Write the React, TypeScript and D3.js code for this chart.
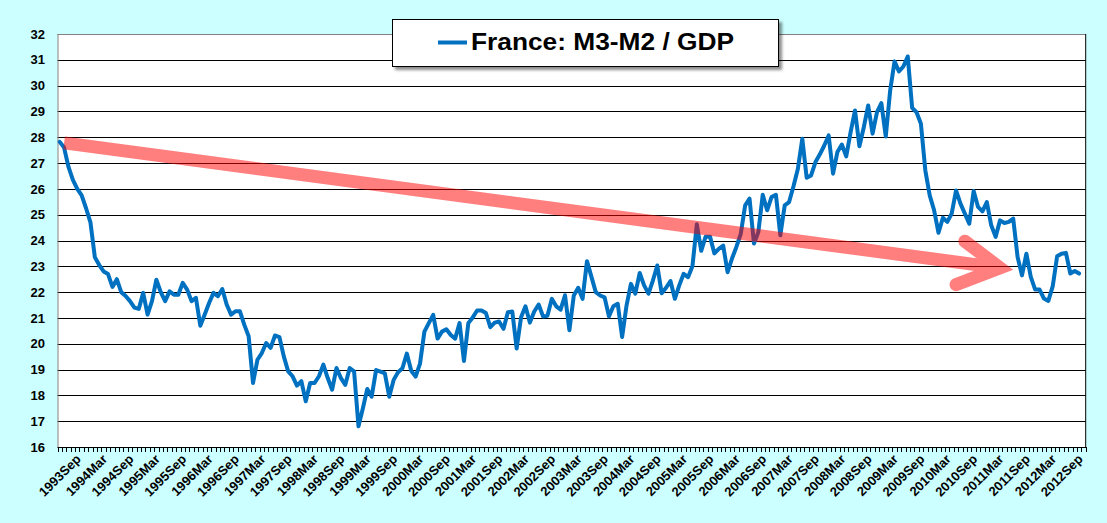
import React from "react";
import * as d3 from "d3";

// ---- data ----
const firstMonth = new Date(1993, 3, 1); // 1993 Apr
const endMonthExclusive = new Date(2012, 9, 1); // through 2012 Sep
const categories: string[] = d3
  .timeMonth.range(firstMonth, endMonthExclusive)
  .map((d) => d3.timeFormat("%Y%b")(d));

const tickLabels = [
  "1993Sep",
  "1994Mar", "1994Sep", "1995Mar", "1995Sep", "1996Mar", "1996Sep",
  "1997Mar", "1997Sep", "1998Mar", "1998Sep", "1999Mar", "1999Sep",
  "2000Mar", "2000Sep", "2001Mar", "2001Sep", "2002Mar", "2002Sep",
  "2003Mar", "2003Sep", "2004Mar", "2004Sep", "2005Mar", "2005Sep",
  "2006Mar", "2006Sep", "2007Mar", "2007Sep", "2008Mar", "2008Sep",
  "2009Mar", "2009Sep", "2010Mar", "2010Sep", "2011Mar", "2011Sep",
  "2012Mar", "2012Sep",
];

const yTicks = [16, 17, 18, 19, 20, 21, 22, 23, 24, 25, 26, 27, 28, 29, 30, 31, 32];

const seriesName = "France: M3-M2 / GDP";

const m3m2Gdp = [
  27.82, 27.6, 26.85, 26.35, 26.0, 25.75, 25.25, 24.7, 23.35, 23.05,
  22.8, 22.7, 22.2, 22.5, 22.0, 21.85, 21.65, 21.4, 21.35, 21.97,
  21.13, 21.65, 22.48, 22.0, 21.65, 22.03, 21.9, 21.9, 22.36, 22.1,
  21.65, 21.78, 20.7, 21.13, 21.58, 21.97, 21.84, 22.12, 21.52, 21.13,
  21.26, 21.26, 20.74, 20.29, 18.48, 19.38, 19.64, 20.03, 19.84, 20.32,
  20.26, 19.51, 18.93, 18.74, 18.38, 18.55, 17.77, 18.48, 18.48, 18.74,
  19.19, 18.67, 18.22, 19.06, 18.67, 18.41, 19.06, 18.93, 16.8, 17.5,
  18.25, 17.95, 18.98, 18.92, 18.85, 17.95, 18.6, 18.9, 19.05, 19.62,
  18.95, 18.73, 19.23, 20.47, 20.8, 21.12, 20.2, 20.47, 20.56, 20.34,
  20.2, 20.8, 19.33, 20.8, 21.02, 21.29, 21.29, 21.19, 20.64, 20.82,
  20.86, 20.58, 21.22, 21.25, 19.82, 21.03, 21.45, 20.82, 21.25, 21.52,
  21.06, 21.08, 21.74, 21.45, 21.32, 21.88, 20.52, 21.87, 22.17, 21.74,
  23.2, 22.6, 22.0, 21.87, 21.8, 21.06, 21.45, 21.55, 20.26, 21.48,
  22.32, 21.94, 22.74, 22.26, 21.94, 22.45, 23.03, 21.96, 22.17, 22.43,
  21.74, 22.26, 22.71, 22.58, 23.0, 24.63, 23.6, 24.15, 24.15, 23.5,
  23.68, 23.8, 22.77, 23.3, 23.75, 24.26, 25.36, 25.62, 23.88, 24.33,
  25.77, 25.17, 25.68, 25.77, 24.2, 25.36, 25.49, 26.1, 26.78, 27.94,
  26.43, 26.52, 27.04, 27.34, 27.68, 28.07, 26.59, 27.43, 27.72, 27.26,
  28.2, 29.04, 27.65, 28.39, 29.23, 28.14, 28.97, 29.32, 28.03, 29.81,
  30.94, 30.55, 30.74, 31.13, 29.14, 28.97, 28.52, 26.72, 25.75, 25.17,
  24.3, 24.88, 24.72, 25.04, 25.94, 25.43, 25.04, 24.65, 25.92, 25.3,
  25.13, 25.49, 24.59, 24.14, 24.78, 24.68, 24.72, 24.85, 23.36, 22.65,
  23.49, 22.59, 22.1, 22.1, 21.75, 21.66, 22.23, 23.39, 23.49, 23.52,
  22.72, 22.82, 22.72,
];

// trend arrow annotation (category, value)
const arrowShaft: [string, number][] = [
  ["1993May", 27.78],
  ["2011Feb", 22.94],
];
const arrowHead: [string, number][] = [
  ["2010Jun", 23.97],
  ["2011Feb", 22.94],
  ["2010Apr", 22.29],
];

// ---- layout ----
const W = 1107;
const H = 523;
const plotLeft = 57.5;
const plotRight = 1085.7;
const plotTop = 34;
const plotBottom = 447;
const FONT = "Arial, 'Liberation Sans', sans-serif";
const LINE_COLOR = "#0070C0";

export default function App() {
  const x = d3
    .scaleBand<string>()
    .domain(categories)
    .range([plotLeft, plotRight])
    .paddingInner(0)
    .paddingOuter(0);
  const bw = x.bandwidth();
  const cx = (c: string) => (x(c) as number) + bw / 2;
  const y = d3.scaleLinear().domain([16, 32]).range([plotBottom, plotTop]);

  const data = m3m2Gdp.map((v, i) => ({ c: categories[i], v }));
  const linePath = d3
    .line<{ c: string; v: number }>()
    .x((d) => cx(d.c))
    .y((d) => y(d.v))(data) as string;

  const arrowLine = d3
    .line<[string, number]>()
    .x((d) => cx(d[0]))
    .y((d) => y(d[1]));

  const tickXs = [...categories.map((c) => x(c) as number), plotRight];

  return (
    <svg
      width={W}
      height={H}
      style={{ position: "absolute", left: 0, top: 0, display: "block" }}
      fontFamily={FONT}
    >
      <defs>
        <filter id="shadow" x="-10%" y="-30%" width="130%" height="180%">
          <feDropShadow dx="3" dy="3" stdDeviation="1.4" floodColor="#000" floodOpacity="0.45" />
        </filter>
      </defs>
      <rect x={0} y={0} width={W} height={H} fill="#CCFFFF" />
      <rect
        x={plotLeft}
        y={plotTop}
        width={plotRight - plotLeft}
        height={plotBottom - plotTop}
        fill="#FFFFFF"
      />
      {/* gridlines */}
      {yTicks
        .filter((t) => t > 16 && t < 32)
        .map((t) => (
          <line
            key={"g" + t}
            x1={plotLeft}
            x2={plotRight}
            y1={Math.round(y(t)) + 0.5}
            y2={Math.round(y(t)) + 0.5}
            stroke="#000"
            strokeWidth={1}
          />
        ))}
      {/* borders */}
      <line x1={plotLeft} x2={plotRight} y1={plotTop + 0.5} y2={plotTop + 0.5} stroke="#808080" />
      <line x1={plotLeft + 0.5} x2={plotLeft + 0.5} y1={plotTop} y2={plotBottom} stroke="#808080" />
      <line x1={plotRight} x2={plotRight} y1={plotTop} y2={plotBottom} stroke="#000" />
      <line x1={plotLeft} x2={plotRight + 0.5} y1={plotBottom + 0.5} y2={plotBottom + 0.5} stroke="#000" />
      {/* x ticks */}
      {tickXs.map((tx, i) => (
        <line
          key={"t" + i}
          x1={Math.round(tx) + 0.5}
          x2={Math.round(tx) + 0.5}
          y1={plotBottom}
          y2={plotBottom + 5}
          stroke="#000"
          strokeWidth={1}
        />
      ))}
      {/* y labels */}
      {yTicks.map((t) => (
        <text
          key={"y" + t}
          x={45}
          y={y(t)}
          dy="0.36em"
          textAnchor="end"
          fontSize={13}
          fontWeight="bold"
          fill="#000"
        >
          {t}
        </text>
      ))}
      {/* x labels */}
      {tickLabels.map((lab) => (
        <text
          key={"x" + lab}
          transform={`translate(${cx(lab)},${460}) rotate(-45)`}
          textAnchor="end"
          fontSize={13}
          fontWeight="bold"
          fill="#000"
        >
          {lab}
        </text>
      ))}
      {/* series line */}
      <path
        d={linePath}
        fill="none"
        stroke={LINE_COLOR}
        strokeWidth={4}
        strokeLinejoin="round"
        strokeLinecap="round"
      />
      {/* trend arrow */}
      <g opacity={0.5}>
        <path d={arrowLine(arrowShaft) as string} fill="none" stroke="#FF0000" strokeWidth={13} strokeLinecap="butt" />
        <path
          d={arrowLine(arrowHead) as string}
          fill="none"
          stroke="#FF0000"
          strokeWidth={13}
          strokeLinecap="round"
          strokeLinejoin="miter"
          strokeMiterlimit={10}
        />
      </g>
      {/* legend / title box */}
      <rect x={392.5} y={19.5} width={386} height={47} fill="#FFFFFF" stroke="#000" strokeWidth={1} filter="url(#shadow)" />
      <line x1={438} x2={467} y1={42.5} y2={42.5} stroke={LINE_COLOR} strokeWidth={4} />
      <text x={471} y={49.5} fontSize={23} fontWeight="bold" fill="#000" textLength={263} lengthAdjust="spacingAndGlyphs">
        {seriesName}
      </text>
    </svg>
  );
}
